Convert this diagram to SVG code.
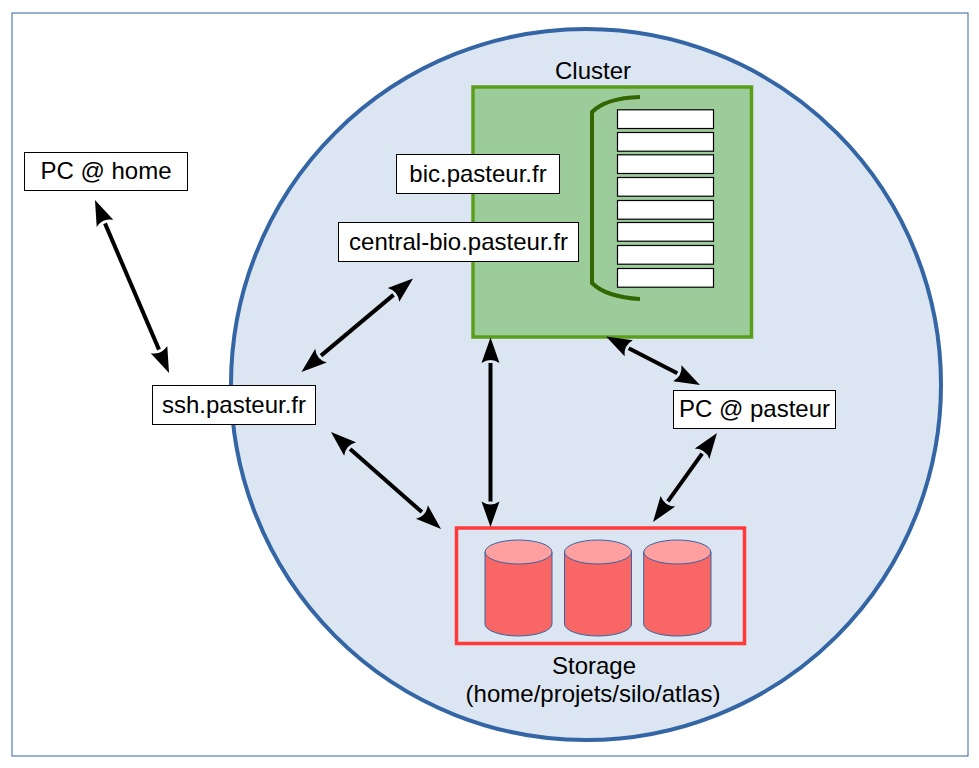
<svg xmlns="http://www.w3.org/2000/svg" width="979" height="768" viewBox="0 0 979 768">
<style>
text{font-family:"Liberation Sans",Arial,sans-serif;font-size:24px;fill:#000;text-anchor:middle}
.box{fill:#fff;stroke:#000;stroke-width:1}
.bar{fill:#fff;stroke:#000;stroke-width:1.2}
.link{fill:none;stroke:#000;stroke-width:4;marker-start:url(#head);marker-end:url(#head)}
.body{fill:#f96666;stroke:#3465a4;stroke-width:1}
.lid{fill:#ff9f9f;stroke:#3465a4;stroke-width:1}
</style>
<defs>
<marker id="head" markerUnits="userSpaceOnUse" markerWidth="27" markerHeight="20" viewBox="0 0 27 20" refX="0" refY="10" orient="auto-start-reverse" overflow="visible">
<path d="M25.5 10L0 1Q6 10 0 19Z" fill="#000"/>
</marker>
</defs>
<rect x="0" y="0" width="979" height="768" fill="#fff"/>
<g id="frame"><rect x="12" y="13" width="956" height="743" fill="#fff" stroke="#3465a4" stroke-width="1"/></g>
<g id="network"><ellipse cx="586" cy="384.500" rx="355" ry="355.500" fill="#dce6f2" stroke="#3465a4" stroke-width="4"/></g>
<g id="cluster">
<rect x="473" y="87" width="278.500" height="250" fill="#9ccc9a" stroke="#5a9e1a" stroke-width="3.500"/>
<path d="M640 97Q606 98 592 112V283Q606 297 640 299" fill="none" stroke="#336600" stroke-width="4"/>
<rect class="bar" x="617.500" y="109.800" width="96" height="18.700"/>
<rect class="bar" x="617.500" y="132.500" width="96" height="18.700"/>
<rect class="bar" x="617.500" y="154.800" width="96" height="18.700"/>
<rect class="bar" x="617.500" y="177.500" width="96" height="18.700"/>
<rect class="bar" x="617.500" y="200.500" width="96" height="18.700"/>
<rect class="bar" x="617.500" y="222.500" width="96" height="18.700"/>
<rect class="bar" x="617.500" y="245.500" width="96" height="18.700"/>
<rect class="bar" x="617.500" y="268.500" width="96" height="18.700"/>
<text x="593" y="79">Cluster</text>
</g>
<g id="bic"><rect class="box" x="396.500" y="154.500" width="163" height="39"/><text x="478" y="182">bic.pasteur.fr</text></g>
<g id="central-bio"><rect class="box" x="338.500" y="222.500" width="240" height="39"/><text x="458.500" y="250">central-bio.pasteur.fr</text></g>
<g id="pc-home"><rect class="box" x="24.500" y="152.500" width="163" height="38"/><text x="106" y="179">PC @ home</text></g>
<g id="ssh"><rect class="box" x="152.500" y="385.500" width="163" height="39"/><text x="234" y="413">ssh.pasteur.fr</text></g>
<g id="pc-pasteur"><rect class="box" x="673.500" y="390.500" width="162" height="38"/><text x="754.500" y="417">PC @ pasteur</text></g>
<g id="storage">
<rect x="456.500" y="528" width="288" height="115.500" fill="none" stroke="#ff3838" stroke-width="3.500"/>
<path class="body" d="M485 552V624A33.500 12 0 0 0 552 624V552Z"/><ellipse class="lid" cx="518.500" cy="552" rx="33.500" ry="12"/>
<path class="body" d="M564.500 552V624A33.500 12 0 0 0 631.500 624V552Z"/><ellipse class="lid" cx="598" cy="552" rx="33.500" ry="12"/>
<path class="body" d="M643.700 552V624A33.500 12 0 0 0 711 624V552Z"/><ellipse class="lid" cx="677.300" cy="552" rx="33.500" ry="12"/>
<text x="594" y="674">Storage</text>
<text x="593" y="702">(home/projets/silo/atlas)</text>
</g>
<g id="connectors">
<path class="link" d="M105 223.400L159 349.600"/>
<path class="link" d="M393.500 294.900L321 355.600"/>
<path class="link" d="M350.100 448.900L421.900 512.100"/>
<path class="link" d="M490.500 363V501.500"/>
<path class="link" d="M628.700 348.200L677.300 373.300"/>
<path class="link" d="M702.100 453.700L667.900 501.300"/>
</g>
</svg>
